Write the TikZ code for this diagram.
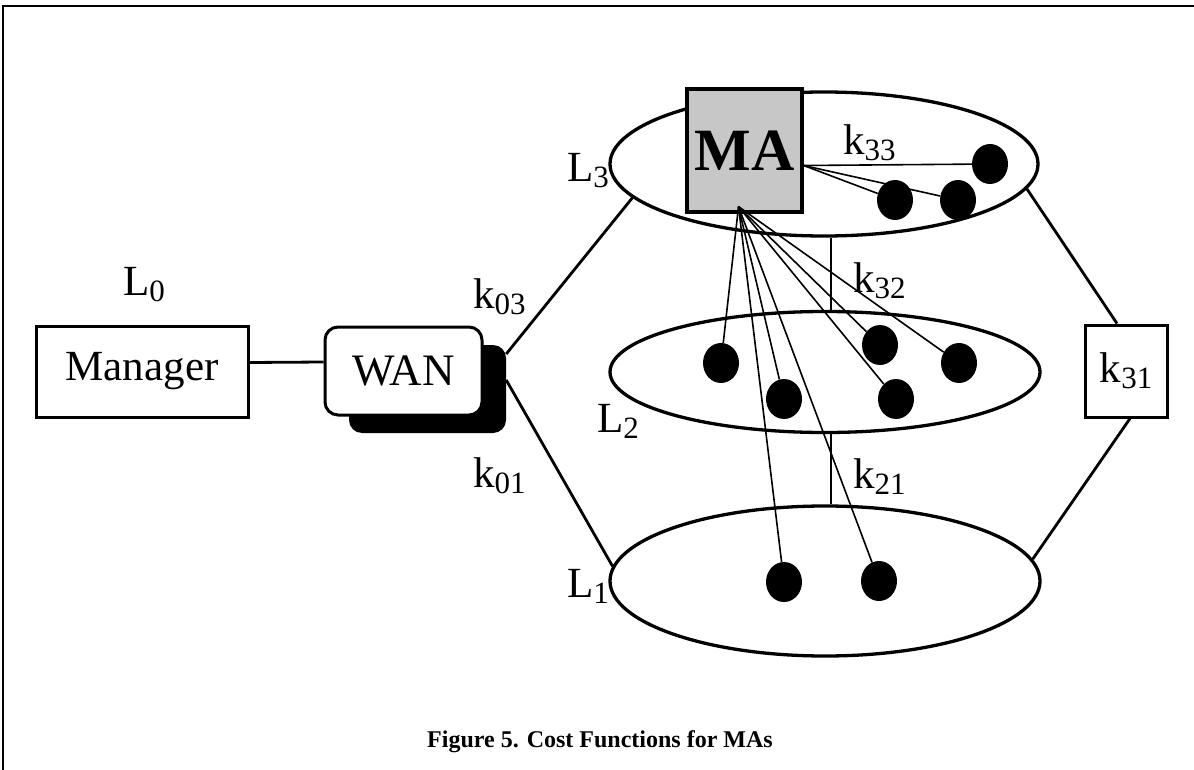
\documentclass[tikz,border=0pt]{standalone}
\usepackage{fontspec}
\setmainfont{Liberation Serif}
\usetikzlibrary{shapes.geometric}
% letter with a lowered subscript, as in k03 or L2
\newcommand\ksub[2]{#1\raisebox{-6pt}{\fontsize{31}{31}\selectfont #2}}

\begin{document}
\begin{tikzpicture}[x=1pt,y=-1pt,
  lbl/.style={inner sep=0pt, font=\fontsize{43}{43}\selectfont},
  box/.style={draw, line width=3pt, inner sep=0pt},
  layer/.style={ellipse, draw, line width=3.3pt, inner sep=0pt},
  dot/.style={ellipse, fill=black, inner sep=0pt, minimum width=36pt, minimum height=40pt},
  link/.style={line width=2.8pt},
  ray/.style={line width=1.6pt}]

\useasboundingbox (0,0) rectangle (1194,770);

% frame: top and left rules
\coordinate (f0) at (3,6);
\coordinate (f1) at (1194,6);
\coordinate (f2) at (3,770);
\draw[line width=2.4pt] (f1) -- (f0) -- (f2);

% manager and WAN
\node[lbl, anchor=base west] (L0) at (123,295) {\ksub{L}{0}};
\node[box, lbl, minimum width=212pt, minimum height=91pt] (man) at (142,371.5) {Manager};
\node[fill=black, rounded corners=13pt, minimum width=157pt, minimum height=88pt] (wans) at (427.5,389) {};
\node[box, lbl, fill=white, rounded corners=13pt, minimum width=157pt, minimum height=88pt,
      font=\fontsize{45}{45}\selectfont] (wan) at (403.5,371) {WAN};
\draw[link] ([yshift=9pt]man.east) -- ([yshift=9pt]wan.west);

% the three layers
\node[layer, minimum width=428pt, minimum height=144pt] (L3) at (824,164) {};
\node[layer, minimum width=430pt, minimum height=121pt] (L2) at (825,372) {};
\node[layer, minimum width=430pt, minimum height=150pt] (L1) at (825,581) {};
\node[lbl, anchor=base west] (L3t) at (567,182) {\ksub{L}{3}};
\node[lbl, anchor=base west] (L2t) at (597,432) {\ksub{L}{2}};
\node[lbl, anchor=base west] (L1t) at (567,597) {\ksub{L}{1}};

% WAN to layers
\draw[link] ([yshift=35pt]wans.east) -- (L3.190);
\draw[link] ([yshift=9pt]wans.east) -- (L1.176);
\node[lbl, anchor=base west] (k03) at (473,308) {\ksub{k}{03}};
\node[lbl, anchor=base west] (k01) at (473,487) {\ksub{k}{01}};

% links between neighbouring layers
\coordinate (vx) at (831,0);
\draw[link] (L3.south -| vx) -- (L2.north -| vx);
\draw[link] (L2.south -| vx) -- (L1.north -| vx);
\node[lbl, anchor=base west] (k32) at (853,292) {\ksub{k}{32}};
\node[lbl, anchor=base west] (k21) at (853,488) {\ksub{k}{21}};

% top layer to bottom layer through k31
\node[box, lbl, minimum width=82pt, minimum height=92pt] (k31) at (1126,371) {\ksub{k}{31}};
\draw[link] (L3.-7) -- ([xshift=-9pt]k31.north);
\draw[link] ([xshift=4pt]k31.south) -- (L1.6);

% managed elements
\node[dot] (d3a) at (990,164) {};
\node[dot] (d3b) at (895,200) {};
\node[dot] (d3c) at (958,200) {};
\node[dot] (d2a) at (721,363) {};
\node[dot] (d2b) at (784,399) {};
\node[dot] (d2c) at (880,345) {};
\node[dot] (d2d) at (959,363) {};
\node[dot] (d2e) at (896,399) {};
\node[dot] (d1a) at (784,582) {};
\node[dot] (d1b) at (879,581) {};

% management agent
\node[box, line width=3.3pt, fill=black!22, minimum width=115pt, minimum height=123pt,
      font=\bfseries\fontsize{60}{60}\selectfont] (MA) at (744.5,150.5) {MA};
\node[lbl, anchor=base west] (k33) at (843,155) {\ksub{k}{33}};
\coordinate (mr) at ([yshift=-15pt]MA.east);
\coordinate (mb) at ([xshift=-6pt,yshift=7pt]MA.south);
\draw[ray] (mr) -- (d3a);
\draw[ray] (mr) -- (d3b);
\draw[ray] (mr) -- (d3c);
\foreach \d in {d2a,d2b,d2c,d2d,d2e,d1a,d1b}
  \draw[ray] (mb) -- (\d);

% caption
\node[font=\bfseries\fontsize{24}{24}\selectfont, anchor=base, inner sep=0pt] (cap) at (600,747) {Figure 5. Cost Functions for MAs};
\end{tikzpicture}
\end{document}
